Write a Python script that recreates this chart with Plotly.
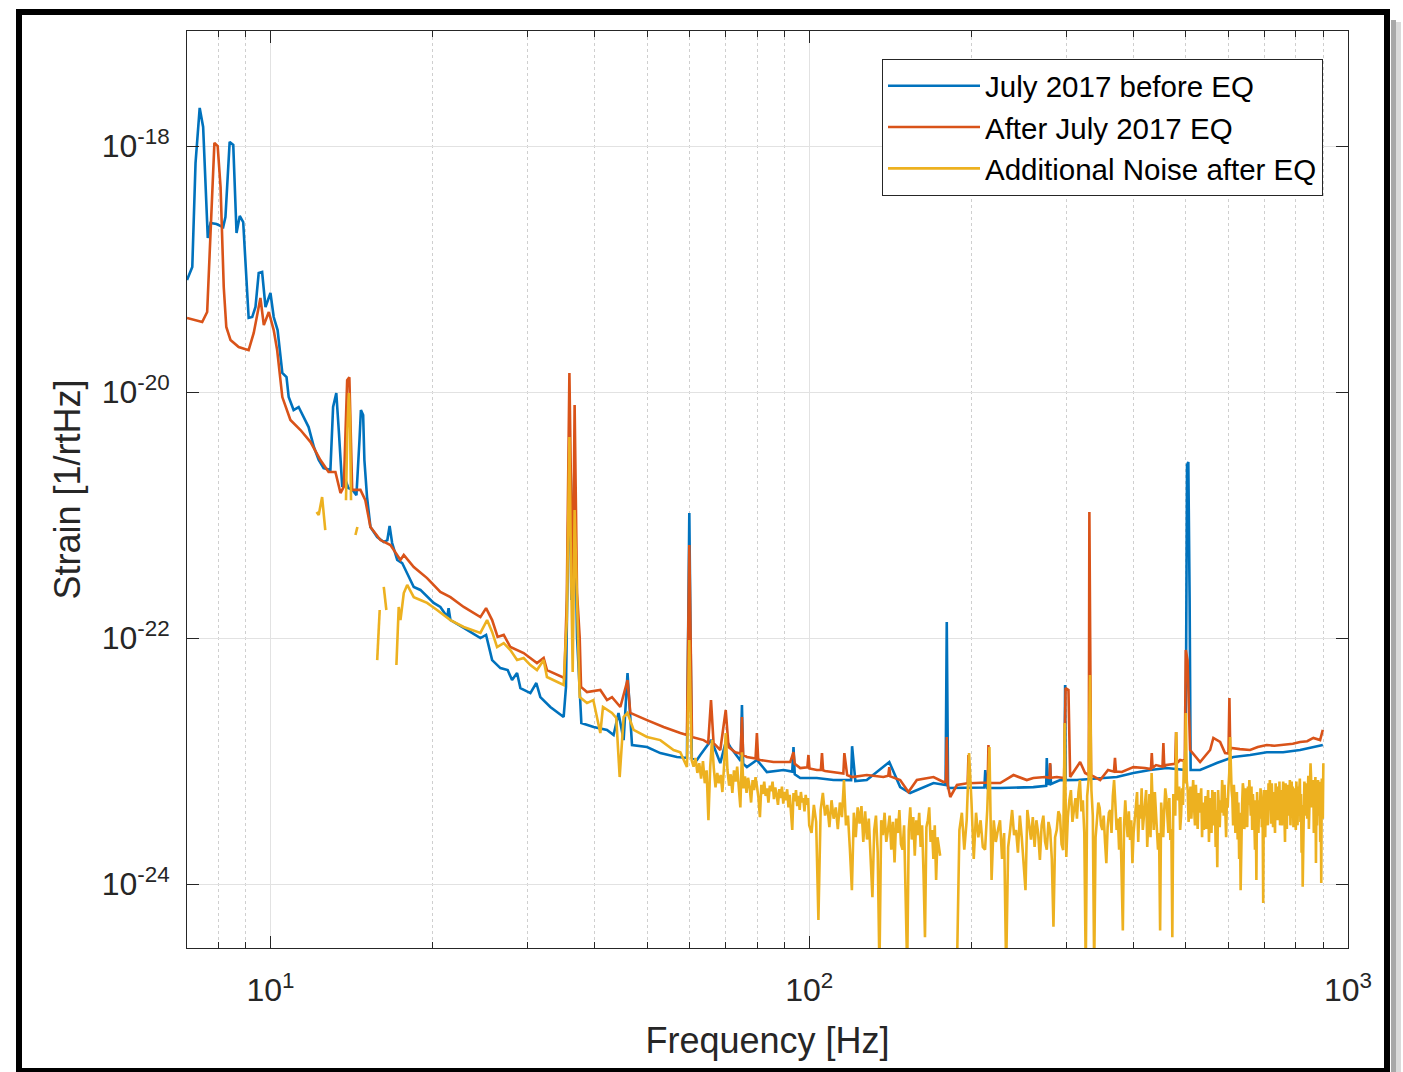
import plotly.graph_objects as go

# --- Strain spectra (frequency in Hz, strain in 1/rtHz) ---------------------
before_eq_hz = [
    7.0, 7.16, 7.26, 7.39, 7.50, 7.65, 7.74, 7.94, 8.17, 8.25,
    8.40, 8.53, 8.65, 8.77, 8.90, 9.11, 9.25, 9.38, 9.51, 9.65,
    9.79, 10.0, 10.14, 10.31, 10.52, 10.71, 10.81, 11.04, 11.28, 11.53,
    11.77, 12.04, 12.29, 12.55, 12.92, 13.07, 13.25, 13.39, 13.59, 13.78,
    13.95, 14.20, 14.44, 14.63, 14.72, 14.86, 14.94, 15.11, 15.33, 15.78,
    16.23, 16.48, 16.64, 16.82, 17.19, 17.56, 17.94, 18.45, 18.98, 20.09,
    20.67, 21.29, 21.41, 21.58, 22.84, 24.53, 25.13, 25.79, 26.72, 27.56,
    28.08, 28.69, 29.10, 30.37, 31.15, 31.69, 33.07, 34.25, 35.01, 35.36,
    35.64, 35.88, 36.18, 36.65, 37.07, 37.76, 39.79, 42.14, 43.34, 44.26,
    45.24, 46.0, 46.89, 49.99, 52.91,
    56.81, 59.30, 59.9, 60.54, 61.90, 62.78, 65.80, 68.38, 70.14, 71.36,
    74.6, 75.01, 75.4, 76.61, 79.96, 83.45, 89.6, 93.0, 93.5, 94.0,
    96.23, 103.3, 110.9, 119.6, 120.1, 121.8, 127.9, 140.8, 147.5, 153.9,
    170.1, 179.1, 180.0, 181.0, 196.1, 211.4, 212.2, 213.9, 226.2, 260.6,
    275.3, 276.0, 277.0, 279.5, 280.0, 281.0, 292.2, 297.8, 298.5, 299.3,
    313.8, 346.7, 372.3, 399.6, 429.2, 461.0, 494.9, 499.5, 502.6, 505.4,
    508.2, 510.4, 531.5, 570.7, 612.7, 658.1, 706.7, 757.7, 814.8, 897.9,
]
before_eq_strain = [
    8.14e-20, 1.04e-19, 7.27e-19, 2.04e-18, 1.43e-18, 1.79e-19, 2.37e-19, 2.32e-19, 2.19e-19, 2.65e-19,
    1.08e-18, 1.02e-18, 1.96e-19, 2.70e-19, 2.41e-19, 4.00e-20, 4.07e-20, 4.91e-20, 9.27e-20, 9.45e-20,
    4.91e-20, 6.38e-20, 4.07e-20, 3.19e-20, 1.43e-20, 1.32e-20, 9.10e-21, 7.14e-21, 7.55e-21, 6.14e-21,
    5.19e-21, 3.57e-21, 2.80e-21, 2.41e-21, 2.32e-21, 7.55e-21, 9.81e-21, 4.91e-21, 1.69e-21, 1.93e-21,
    1.66e-21, 1.60e-21, 1.45e-21, 4.07e-21, 7.14e-21, 6.50e-21, 2.80e-21, 1.40e-21, 7.99e-22, 6.62e-22,
    6.03e-22, 6.26e-22, 8.14e-22, 5.92e-22, 4.31e-22, 4.07e-22, 3.38e-22, 2.60e-22, 2.46e-22, 1.93e-22,
    1.79e-22, 1.48e-22, 1.75e-22, 1.40e-22, 1.21e-22, 1.00e-22, 1.06e-22, 6.62e-23, 5.70e-23, 5.49e-23,
    4.55e-23, 5.19e-23, 3.92e-23, 3.57e-23, 4.31e-23, 3.31e-23, 2.75e-23, 2.46e-23, 2.28e-23, 4.00e-23,
    4.31e-22, 4.07e-21, 2.04e-22, 2.32e-21, 1.02e-22, 2.04e-23, 1.89e-23, 1.79e-23, 1.63e-23, 2.46e-23,
    1.48e-23, 5.19e-23, 1.35e-23, 1.30e-23, 1.16e-23,
    1.08e-23, 1.06e-23, 1.04e-21, 1.06e-23, 1.02e-23, 1.12e-23, 1.48e-23, 9.63e-24, 1.48e-23, 1.30e-23,
    1.0e-23, 2.85e-23, 9.5e-24, 8.93e-24, 1.02e-23, 8.14e-24, 8.45e-24, 8.2e-24, 1.30e-23, 7.8e-24,
    7.27e-24, 7.27e-24, 7.01e-24, 7.0e-24, 1.32e-23, 6.88e-24, 7.01e-24, 9.81e-24, 6.14e-24, 5.49e-24,
    6.62e-24, 6.38e-24, 1.35e-22, 6.03e-24, 6.03e-24, 6.1e-24, 8.45e-24, 6.03e-24, 6.03e-24, 6.14e-24,
    6.3e-24, 1.06e-23, 6.5e-24, 6.5e-24, 9.4e-24, 6.5e-24, 7.01e-24, 7.0e-24, 4.15e-23, 7.0e-24,
    7.01e-24, 7.27e-24, 7.41e-24, 7.99e-24, 8.45e-24, 8.77e-24, 8.45e-24, 8.45e-24, 2.55e-21, 2.70e-21,
    2.04e-22, 8.45e-24, 8.45e-24, 9.63e-24, 1.08e-23, 1.12e-23, 1.18e-23, 1.18e-23, 1.23e-23, 1.35e-23,
]

after_eq_hz = [
    7.0, 7.47, 7.63, 7.74, 7.87, 7.98, 8.08, 8.19, 8.28, 8.43,
    8.73, 9.11, 9.31, 9.58, 9.72, 9.93, 10.14, 10.29, 10.52, 10.89,
    11.37, 11.87, 12.38, 12.82, 13.20, 13.49, 13.68, 13.88, 14.01, 14.18,
    14.69, 15.0, 15.33, 16.0, 16.70, 17.43, 17.68, 18.45, 19.53, 20.67,
    21.58, 22.84, 24.53, 25.13, 25.79, 26.40, 27.10, 27.88, 29.51, 31.24,
    32.14, 32.60, 34.02, 35.11, 35.48, 35.88, 36.39, 36.69, 37.07, 37.49,
    37.71, 38.68, 40.95, 42.14, 43.05, 44.61, 46.0, 46.55, 49.99, 53.66,
    57.64, 59.30, 59.9, 60.59, 63.67, 64.93, 65.72, 66.44, 68.38, 69.99,
    70.84, 72.89, 74.6, 75.01, 75.4, 76.61, 79.5, 79.96, 80.4, 81.11,
    85.84, 92.2, 93.5, 94.0, 96.23, 99.2, 99.67, 100.1, 103.3, 105.1,
    105.6, 106.1, 107.0, 110.9, 115.7, 116.2, 117.6, 120.1, 127.9, 137.3,
    140.2, 140.8, 141.4, 147.5, 152.8, 158.4, 170.1, 177.5, 179.4, 180.0,
    180.6, 182.7, 188.0, 196.8, 197.5, 198.2, 199.9, 214.4, 215.1, 215.8,
    217.6, 226.2, 239.4, 253.4, 260.6, 274.0, 279.3, 280.0, 280.7, 288.1,
    297.2, 299.1, 302.8, 305.0, 318.3, 325.1, 330.3, 331.1, 333.5, 346.7,
    358.6, 367.8, 369.4, 371.0, 380.4, 399.6, 420.0, 430.8, 432.3, 433.8,
    440.3, 452.6, 454.3, 456.0, 459.6, 477.8, 479.6, 481.4, 488.0, 497.8,
    499.9, 503.7, 509.3, 531.5, 554.7, 562.5, 578.9, 591.3, 600.0, 602.4,
    604.6, 606.8, 630.0, 658.1, 680.0, 706.7, 730.0, 758.6, 790.0, 814.8,
    840.0, 862.4, 887.6, 897.9,
]
after_eq_strain = [
    4.00e-20, 3.71e-20, 4.47e-20, 1.82e-19, 1.06e-18, 1.00e-18, 4.64e-19, 7.14e-20, 3.38e-20, 2.65e-20,
    2.32e-20, 2.19e-20, 3.02e-20, 5.81e-20, 3.50e-20, 4.47e-20, 3.19e-20, 2.19e-20, 9.10e-21, 5.92e-21,
    4.91e-21, 3.92e-21, 2.80e-21, 2.24e-21, 2.24e-21, 1.51e-21, 1.69e-21, 1.25e-20, 1.32e-20, 1.60e-21,
    1.60e-21, 1.32e-21, 7.99e-22, 6.26e-22, 5.70e-22, 4.31e-22, 4.73e-22, 3.78e-22, 3.07e-22, 2.37e-22,
    2.15e-22, 1.79e-22, 1.48e-22, 1.75e-22, 1.40e-22, 1.02e-22, 1.06e-22, 8.45e-23, 7.55e-23, 6.26e-23,
    6.88e-23, 5.49e-23, 5.00e-23, 4.73e-23, 2.04e-22, 1.43e-20, 1.69e-22, 7.84e-21, 2.32e-22, 1.02e-22,
    4.00e-23, 3.64e-23, 3.78e-23, 3.13e-23, 3.31e-23, 2.75e-23, 4.55e-23, 2.46e-23, 2.15e-23, 1.89e-23,
    1.69e-23, 1.63e-23, 5.70e-22, 1.57e-23, 1.48e-23, 1.40e-23, 3.13e-23, 1.40e-23, 1.23e-23, 2.60e-23,
    1.30e-23, 1.18e-23, 1.15e-23, 2.28e-23, 1.12e-23, 1.08e-23, 1.05e-23, 1.69e-23, 1.03e-23, 1.02e-23,
    9.81e-24, 9.81e-24, 1.18e-23, 9.5e-24, 8.77e-24, 8.9e-24, 1.12e-23, 8.7e-24, 8.45e-24, 8.5e-24,
    1.16e-23, 8.4e-24, 8.29e-24, 8.14e-24, 7.9e-24, 1.16e-23, 7.69e-24, 7.41e-24, 7.69e-24, 7.41e-24,
    7.6e-24, 8.93e-24, 7.5e-24, 7.01e-24, 5.60e-24, 7.01e-24, 7.41e-24, 6.75e-24, 6.8e-24, 1.57e-23,
    6.5e-24, 5.10e-24, 6.38e-24, 6.6e-24, 1.12e-23, 6.6e-24, 6.62e-24, 6.7e-24, 1.35e-23, 6.7e-24,
    6.62e-24, 6.62e-24, 7.69e-24, 7.01e-24, 7.27e-24, 7.41e-24, 7.3e-24, 9.63e-24, 7.3e-24, 7.41e-24,
    7.27e-24, 3.92e-23, 3.78e-23, 7.41e-24, 9.81e-24, 7.99e-24, 7.7e-24, 1.06e-21, 7.69e-24, 7.01e-24,
    8.45e-24, 8.2e-24, 1.06e-23, 8.2e-24, 8.14e-24, 8.93e-24, 8.77e-24, 8.6e-24, 1.16e-23, 8.8e-24,
    9.27e-24, 9.0e-24, 1.40e-23, 9.0e-24, 9.27e-24, 9.5e-24, 1.72e-23, 9.6e-24, 1.02e-23, 1.0e-23,
    7.99e-23, 6.62e-23, 1.23e-23, 9.81e-24, 1.23e-23, 1.54e-23, 1.43e-23, 1.16e-23, 1.15e-23, 3.25e-23,
    1.2e-23, 1.28e-23, 1.25e-23, 1.23e-23, 1.3e-23, 1.35e-23, 1.33e-23, 1.35e-23, 1.38e-23, 1.43e-23,
    1.45e-23, 1.54e-23, 1.48e-23, 1.79e-23,
]

# Additional noise after the earthquake; None marks bins where it is undefined
extra_noise_hz = [
    12.18, 12.29, 12.47, 12.64, None,
    13.81, 13.89, 13.98, 14.05, 14.11, None,
    14.38, 14.50, None,
    15.78, 15.95, None,
    16.23, 16.41, None,
    17.13, 17.30, 17.43, 17.68, 17.94, 18.45, 18.98, 19.53, 20.38, 21.58,
    22.84, 24.53, 25.24, 25.79, 26.34, 27.10, 27.88, 28.69, 29.51, 30.37,
    31.24, 32.14, 32.60, 34.02, 35.01, 35.48, 35.88, 36.11, 36.39, 36.69,
    37.07, 37.49, 38.68, 39.74, 40.95, 41.42, 43.05, 43.84, 44.48, 45.24,
    46.0, 47.21, 49.99, 52.91, 56.0, 57.64, 59.30, 59.89,
    60.5, 61.0, 61.5, 62.0, 62.5, 63.0, 63.5, 64.0, 64.5, 65.0,
    65.5, 66.0, 66.5, 67.0, 67.5, 68.0, 68.5, 69.0, 69.5, 70.0,
    70.5, 71.0, 71.5, 72.0, 72.5, 73.0, 73.5, 74.0, 74.5, 75.0,
    75.5, 76.0, 76.5, 77.0, 77.5, 78.0, 78.5, 79.0, 79.5, 80.0,
    80.5, 81.0, 81.5, 82.0, 82.5, 83.0, 83.5, 84.0, 84.5, 85.0,
    85.5, 86.0, 86.5, 87.0, 87.5, 88.0, 88.5, 89.0, 89.5, 90.0,
    90.5, 91.0, 91.5, 92.0, 92.5, 93.0, 93.5, 94.0, 94.5, 95.0,
    95.5, 96.0, 96.5, 97.0, 97.5, 98.0, 98.5, 99.0, 99.5,
    100, 101, 102, 103, 104, 105, 106, 107, 108, 109,
    110, 111, 112, 113, 114, 115, 116, 117, 118, 119,
    120, 121, 122, 123, 124, 125, 126, 127, 128, 129,
    130, 131, 132, 133, 134, 135, 136, 137, 138, 139,
    140, 141, 142, 143, 144, 145, 146, 147, 148, 149,
    150, 151, 152, 153, 154, 155, 156, 157, 158, 159,
    160, 161, 162, 163, 164, 165, 166, 167, 168, 169,
    170, 171, 172, 173, 174, 175, None,
    188, 190, 192, 194, 196, 198, 200, 202, 204, 206,
    208, 210, 212, 214, 216, 218, 220, 222, 224, 226,
    228, 230, 232, 234, 236, 238, 240, 242, 244, 246,
    248, 250, 252, 254, 256, 258, 260, 262, 264, 266,
    268, 270, 272, 274, 276, 278, 280, 282, 284, 286,
    288, 290, 292, 294, 296, 298, 300, 302, 304, 306,
    308, 310, 312, 314, 316, 318, 320, 322, 324, 326,
    328, 330, 332, 334, 336, 338, 340, 342, 344, 346,
    348, 350, 352, 354, 356, 358, 360, 362, 364, 366,
    368, 370, 372, 374, 376, 378, 380, 382, 384, 386,
    388, 390, 392, 394, 396, 398, 400,
    404, 406, 408, 410, 412, 414, 416, 418, 420, 422,
    424, 426, 428, 430, 432, 434, 436, 438, 440, 442,
    444, 446, 448, 450, 452, 454, 456, 458, 460, 462,
    464, 466, 468, 470, 472, 474, 476, 478, 480, 482,
    484, 486, 488, 490, 492, 494, 496, 498, 500, 502,
    504, 506, 508, 510, 512, 514, 516, 518, 520, 522,
    524, 526, 528, 530, 532, 534, 536, 538, 540, 542,
    544, 546, 548, 550, 552, 554, 556, 558, 560, 562,
    564, 566, 568, 570, 572, 574, 576, 578, 580, 582,
    584, 586, 588, 590, 592, 594, 596, 598, 600, 602,
    604, 606, 608, 610, 612, 614, 616, 618, 620, 622,
    624, 626, 628, 630, 632, 634, 636, 638, 640, 642,
    644, 646, 648, 650, 652, 654, 656, 658, 660, 662,
    664, 666, 668, 670, 672, 674, 676, 678, 680, 682,
    684, 686, 688, 690, 692, 694, 696, 698, 700, 702,
    704, 706, 708, 710, 712, 714, 716, 718, 720, 722,
    724, 726, 728, 730, 732, 734, 736, 738, 740, 742,
    744, 746, 748, 750, 752, 754, 756, 758, 760, 762,
    764, 766, 768, 770, 772, 774, 776, 778, 780, 782,
    784, 786, 788, 790, 792, 794, 796, 798, 800, 802,
    804, 806, 808, 810, 812, 814, 816, 818, 820, 822,
    824, 826, 828, 830, 832, 834, 836, 838, 840, 842,
    844, 846, 848, 850, 852, 854, 856, 858, 860, 862,
    864, 866, 868, 870, 872, 874, 876, 878, 880, 882,
    884, 886, 888, 890, 892, 894, 896, 898, 900,
]
extra_noise_strain = [
    1.06e-21, 1.00e-21, 1.40e-21, 7.55e-22, None,
    1.32e-21, 4.91e-21, 9.81e-21, 5.92e-21, 1.32e-21, None,
    6.88e-22, 7.99e-22, None,
    6.62e-23, 1.69e-22, None,
    2.60e-22, 1.69e-22, None,
    6.03e-23, 1.79e-22, 1.40e-22, 2.32e-22, 2.70e-22, 2.15e-22, 2.04e-22, 1.93e-22, 1.69e-22, 1.40e-22,
    1.23e-22, 1.10e-22, 1.40e-22, 1.12e-22, 8.45e-23, 9.10e-23, 7.99e-23, 6.62e-23, 6.88e-23, 6.03e-23,
    5.49e-23, 6.62e-23, 4.82e-23, 4.39e-23, 4.15e-23, 1.40e-22, 4.31e-21, 4.31e-22, 5.29e-23, 1.10e-21,
    1.79e-22, 3.31e-23, 2.96e-23, 3.13e-23, 1.69e-23, 2.75e-23, 2.46e-23, 2.24e-23, 7.41e-24, 2.28e-23,
    2.46e-23, 1.79e-23, 1.57e-23, 1.48e-23, 1.23e-23, 1.18e-23, 8.93e-24, 9.63e-23,
    10.2e-24, 9.0e-24, 10.6e-24, 8.0e-24, 9.6e-24, 7.2e-24, 10.0e-24, 6.6e-24, 8.4e-24, 3.3e-24,
    9.0e-24, 14.8e-24, 8.8e-24, 6.1e-24, 8.0e-24, 6.6e-24, 7.7e-24, 5.6e-24, 9.2e-24, 16.9e-24,
    8.5e-24, 6.3e-24, 7.8e-24, 5.5e-24, 8.4e-24, 6.8e-24, 9.0e-24, 5.8e-24, 4.2e-24, 11.8e-24,
    6.0e-24, 7.5e-24, 5.5e-24, 7.3e-24, 6.2e-24, 4.6e-24, 7.0e-24, 5.8e-24, 7.4e-24, 6.2e-24,
    5.0e-24, 3.5e-24, 6.4e-24, 5.4e-24, 6.8e-24, 5.2e-24, 6.0e-24, 4.6e-24, 6.3e-24, 5.7e-24,
    6.8e-24, 4.9e-24, 6.1e-24, 5.3e-24, 4.4e-24, 5.9e-24, 5.0e-24, 6.2e-24, 4.5e-24, 5.6e-24,
    4.8e-24, 5.9e-24, 4.2e-24, 5.3e-24, 3.6e-24, 2.75e-24, 5.5e-24, 4.7e-24, 5.8e-24, 4.3e-24,
    5.2e-24, 4.0e-24, 5.6e-24, 4.6e-24, 5.0e-24, 3.9e-24, 5.3e-24, 4.4e-24, 5.0e-24,
    3.0e-24, 2.6e-24, 4.4e-24, 3.2e-24, 0.51e-24, 4.0e-24, 5.5e-24, 3.6e-24, 4.4e-24, 2.9e-24,
    4.8e-24, 3.4e-24, 4.2e-24, 2.8e-24, 4.6e-24, 3.5e-24, 7.0e-24, 3.0e-24, 3.6e-24, 1.9e-24,
    0.89e-24, 3.8e-24, 2.4e-24, 4.2e-24, 3.1e-24, 4.3e-24, 2.2e-24, 3.9e-24, 2.3e-24, 3.4e-24,
    1.6e-24, 0.78e-24, 2.75e-24, 3.6e-24, 1.8e-24, 0.2e-24, 3.3e-24, 2.5e-24, 3.8e-24, 2.2e-24,
    2.75e-24, 3.6e-24, 1.9e-24, 3.2e-24, 1.5e-24, 3.4e-24, 2.6e-24, 4.0e-24, 2.1e-24, 1.9e-24,
    3.0e-24, 0.6e-24, 0.2e-24, 2.75e-24, 4.2e-24, 2.3e-24, 3.5e-24, 1.7e-24, 3.3e-24, 2.5e-24,
    3.8e-24, 2.0e-24, 3.0e-24, 1.2e-24, 0.37e-24, 2.9e-24, 3.3e-24, 4.2e-24, 2.2e-24, 2.75e-24,
    1.6e-24, 3.0e-24, 1.08e-24, 2.4e-24, 1.9e-24, 1.7e-24, None,
    0.2e-24, 2.75e-24, 3.8e-24, 1.9e-24, 3.3e-24, 11.6e-24, 4.8e-24, 1.6e-24, 3.8e-24, 2.4e-24,
    3.3e-24, 2.0e-24, 1.9e-24, 4.0e-24, 13.0e-24, 1.08e-24, 3.3e-24, 2.2e-24, 2.75e-24, 3.3e-24,
    1.6e-24, 2.6e-24, 0.2e-24, 2.0e-24, 2.75e-24, 4.0e-24, 2.5e-24, 2.75e-24, 1.8e-24, 3.6e-24,
    2.4e-24, 1.4e-24, 0.89e-24, 4.0e-24, 2.9e-24, 2.3e-24, 3.5e-24, 2.0e-24, 3.3e-24, 2.6e-24,
    1.57e-24, 3.0e-24, 3.6e-24, 2.2e-24, 1.9e-24, 3.2e-24, 2.75e-24, 1.6e-24, 0.45e-24, 2.4e-24,
    2.75e-24, 3.9e-24, 3.6e-24, 2.1e-24, 1.89e-24, 20.4e-24, 1.66e-24, 3.5e-24, 4.8e-24, 5.8e-24,
    3.2e-24, 4.0e-24, 5.0e-24, 3.4e-24, 5.6e-24, 7.0e-24, 3.9e-24, 4.8e-24, 2.6e-24, 0.2e-24,
    5.2e-24, 7.0e-24, 50.0e-24, 5.8e-24, 3.6e-24, 0.2e-24, 2.4e-24, 3.3e-24, 4.6e-24, 4.15e-24,
    3.0e-24, 2.75e-24, 3.6e-24, 2.2e-24, 1.48e-24, 2.9e-24, 3.8e-24, 4.0e-24, 2.6e-24, 5.2e-24,
    7.0e-24, 4.5e-24, 2.75e-24, 3.4e-24, 1.9e-24, 3.5e-24, 1.2e-24, 0.42e-24, 3.0e-24, 4.8e-24,
    3.2e-24, 2.4e-24, 3.9e-24, 2.28e-24, 3.3e-24, 1.48e-24, 2.6e-24,
    4.0e-24, 5.6e-24, 2.2e-24, 4.4e-24, 3.4e-24, 6.0e-24, 2.75e-24, 3.4e-24, 4.8e-24, 5.8e-24,
    2.0e-24, 3.6e-24, 5.4e-24, 2.4e-24, 8.0e-24, 4.4e-24, 2.75e-24, 5.6e-24, 4.0e-24, 3.0e-24,
    1.9e-24, 2.6e-24, 0.42e-24, 4.6e-24, 3.6e-24, 2.4e-24, 4.0e-24, 6.0e-24, 5.1e-24, 3.2e-24,
    2.6e-24, 5.0e-24, 2.28e-24, 2.8e-24, 0.37e-24, 5.4e-24, 4.8e-24, 3.6e-24, 17.2e-24, 5.6e-24,
    4.8e-24, 6.2e-24, 2.75e-24, 3.6e-24, 6.0e-24, 4.4e-24, 10.2e-24, 6.6e-24, 24.6e-24, 7.0e-24,
    5.8e-24, 3.2e-24, 4.8e-24, 6.2e-24, 3.4e-24, 5.0e-24, 7.0e-24, 4.2e-24, 3.0e-24, 6.4e-24,
    4.0e-24, 2.8e-24, 5.5e-24, 3.8e-24, 4.8e-24, 6.0e-24, 2.4e-24, 4.6e-24, 2.75e-24, 3.6e-24,
    5.2e-24, 2.8e-24, 4.8e-24, 5.8e-24, 2.2e-24, 5.0e-24, 3.3e-24, 2.6e-24, 5.8e-24, 4.4e-24,
    3.0e-24, 5.6e-24, 2.0e-24, 4.0e-24, 1.37e-24, 5.8e-24, 4.2e-24, 2.9e-24, 4.8e-24, 3.8e-24,
    7.0e-24, 5.0e-24, 3.6e-24, 6.4e-24, 3.3e-24, 2.4e-24, 5.0e-24, 4.2e-24, 6.2e-24, 8.0e-24,
    15.7e-24, 7.2e-24, 5.8e-24, 5.0e-24, 3.0e-24, 6.4e-24, 4.8e-24, 2.6e-24, 3.6e-24, 5.6e-24,
    2.3e-24, 4.6e-24, 1.6e-24, 3.8e-24, 0.89e-24, 3.0e-24, 4.4e-24, 6.6e-24, 5.8e-24, 2.8e-24,
    3.3e-24, 6.0e-24, 4.0e-24, 2.9e-24, 6.2e-24, 4.4e-24, 7.0e-24, 5.2e-24, 3.6e-24, 6.2e-24,
    2.75e-24, 5.4e-24, 4.6e-24, 3.4e-24, 1.9e-24, 4.8e-24, 1.08e-24, 5.6e-24, 3.8e-24, 2.6e-24,
    4.8e-24, 3.4e-24, 6.0e-24, 5.2e-24, 2.9e-24, 4.6e-24, 0.7e-24, 5.8e-24, 3.5e-24, 2.4e-24,
    5.8e-24, 3.6e-24, 4.2e-24, 3.0e-24, 6.6e-24, 4.6e-24, 7.0e-24, 5.4e-24, 3.1e-24, 6.6e-24,
    4.0e-24, 2.9e-24, 5.6e-24, 4.2e-24, 2.6e-24, 6.6e-24, 4.8e-24, 3.3e-24, 6.2e-24, 4.6e-24,
    3.3e-24, 6.8e-24, 3.0e-24, 4.2e-24, 5.8e-24, 3.0e-24, 4.4e-24, 6.8e-24, 5.8e-24, 4.2e-24,
    2.2e-24, 6.6e-24, 4.0e-24, 2.8e-24, 6.4e-24, 5.0e-24, 3.6e-24, 4.4e-24, 7.0e-24, 3.0e-24,
    5.2e-24, 6.8e-24, 4.8e-24, 6.2e-24, 2.9e-24, 4.4e-24, 6.0e-24, 5.2e-24, 2.75e-24, 6.8e-24,
    4.4e-24, 3.0e-24, 6.2e-24, 3.8e-24, 5.8e-24, 7.2e-24, 3.2e-24, 5.4e-24, 1.8e-24, 4.4e-24,
    0.95e-24, 3.2e-24, 4.0e-24, 6.8e-24, 5.8e-24, 3.6e-24, 6.6e-24, 5.0e-24, 3.4e-24, 5.6e-24,
    7.6e-24, 2.8e-24, 5.0e-24, 6.6e-24, 9.6e-24, 7.4e-24, 4.2e-24, 6.6e-24, 4.8e-24, 7.0e-24,
    2.6e-24, 4.0e-24, 6.0e-24, 7.4e-24, 1.48e-24, 5.6e-24, 3.0e-24, 4.4e-24, 7.0e-24, 3.6e-24,
    5.4e-24, 6.8e-24, 2.2e-24, 4.6e-24, 1.02e-24, 7.2e-24, 6.2e-24, 3.4e-24, 9.6e-24,
]

assert len(before_eq_hz) == len(before_eq_strain)
assert len(after_eq_hz) == len(after_eq_strain)
assert len(extra_noise_hz) == len(extra_noise_strain)

series_names = ["July 2017 before EQ", "After July 2017 EQ", "Additional Noise after EQ"]
series_colors = ["#0072BD", "#D95319", "#EDB120"]

x_tick_vals = [10, 100, 1000]
x_tick_text = ["10<sup>1</sup>", "10<sup>2</sup>", "10<sup>3</sup>"]
y_tick_vals = [1e-24, 1e-22, 1e-20, 1e-18]
y_tick_text = ["10<sup>-24</sup>", "10<sup>-22</sup>", "10<sup>-20</sup>", "10<sup>-18</sup>"]
x_minor_vals = [m * 10 ** e for e in (0, 1, 2) for m in range(2, 10) if m * 10 ** e >= 7]

FONT = "Liberation Sans, Arial, Helvetica, sans-serif"
AXIS_COLOR = "#262626"

fig = go.Figure()
for hz, strain, name, color in zip(
    [before_eq_hz, after_eq_hz, extra_noise_hz],
    [before_eq_strain, after_eq_strain, extra_noise_strain],
    series_names,
    series_colors,
):
    fig.add_trace(go.Scatter(
        x=hz, y=strain, mode="lines", name=name,
        line=dict(color=color, width=2.6), connectgaps=False,
    ))

# Plot area in pixels: x 187..1348, y 31..948 on a 1403x1072 canvas
L, R, T, B = 187, 55, 31, 124
W, H = 1403, 1072
pw, ph = W - L - R, H - T - B


def px(xp):
    return (xp - L) / pw


def py(yp):
    return (H - B - yp) / ph


fig.update_layout(
    width=W, height=H,
    margin=dict(l=L, r=R, t=T, b=B, pad=0),
    paper_bgcolor="white", plot_bgcolor="white",
    font=dict(family=FONT, color=AXIS_COLOR),
    showlegend=True,
    legend=dict(
        x=px(1323), y=py(59), xanchor="right", yanchor="top",
        bgcolor="white", bordercolor=AXIS_COLOR, borderwidth=1,
        font=dict(family=FONT, size=29.5, color="black"),
        itemwidth=92, tracegroupgap=0,
    ),
    xaxis=dict(
        type="log", range=[0.845098, 3],
        tickmode="array", tickvals=x_tick_vals, ticktext=x_tick_text,
        ticks="inside", ticklen=12, tickcolor=AXIS_COLOR, tickwidth=1,
        showline=True, linecolor=AXIS_COLOR, linewidth=1, mirror="allticks",
        showgrid=True, gridcolor="#e2e2e2", gridwidth=1,
        tickfont=dict(size=32, color=AXIS_COLOR),
        ticklabelstandoff=14,
        minor=dict(tickmode="array", tickvals=x_minor_vals, ticks="inside", ticklen=6,
                   tickcolor=AXIS_COLOR, showgrid=True, gridcolor="#cfcfcf",
                   griddash="dot", gridwidth=1),
        title=dict(text="Frequency [Hz]", font=dict(size=36, color=AXIS_COLOR), standoff=20),
        zeroline=False,
    ),
    yaxis=dict(
        type="log", range=[-24.52, -17.065],
        tickmode="array", tickvals=y_tick_vals, ticktext=y_tick_text,
        ticks="inside", ticklen=12, tickcolor=AXIS_COLOR, tickwidth=1,
        showline=True, linecolor=AXIS_COLOR, linewidth=1, mirror="allticks",
        showgrid=True, gridcolor="#e2e2e2", gridwidth=1,
        tickfont=dict(size=32, color=AXIS_COLOR),
        ticklabelstandoff=10,
        title=dict(text="Strain [1/rtHz]", font=dict(size=36, color=AXIS_COLOR), standoff=10),
        zeroline=False,
    ),
    shapes=[
        # soft shadow along the right edge of the frame
        dict(type="rect", xref="paper", yref="paper", x0=px(1391), x1=px(1396), y0=py(1072), y1=py(20),
             line=dict(width=0), fillcolor="#a8a8a8", layer="below"),
        dict(type="rect", xref="paper", yref="paper", x0=px(1396), x1=px(1401), y0=py(1072), y1=py(22),
             line=dict(width=0), fillcolor="#dadada", layer="below"),
        # black frame around the figure
        dict(type="rect", xref="paper", yref="paper", x0=px(19), x1=px(1387), y0=py(1071), y1=py(12),
             line=dict(color="black", width=6), fillcolor="rgba(0,0,0,0)"),
    ],
)

fig.write_html("out.html")
